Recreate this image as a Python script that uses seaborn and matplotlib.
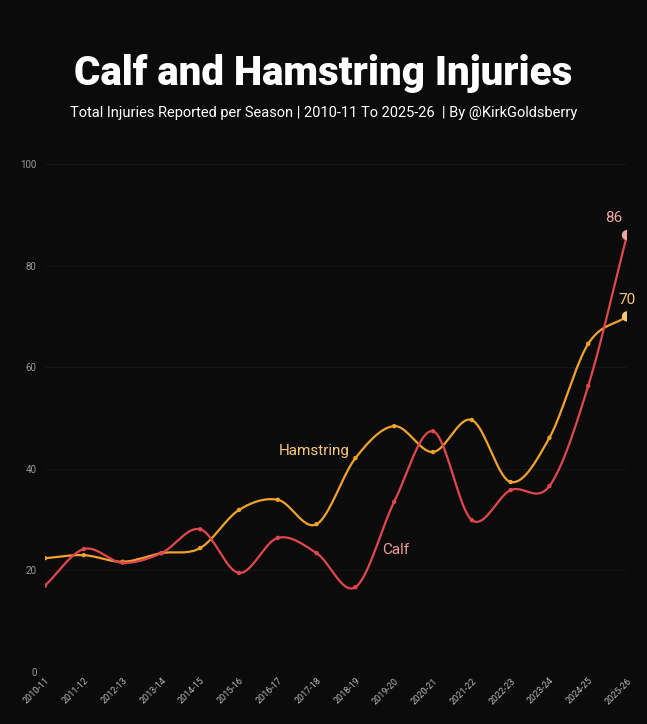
import numpy as np
import pandas as pd
import matplotlib
matplotlib.use("Agg")
import matplotlib.pyplot as plt
import seaborn as sns

seasons = ["2010-11","2011-12","2012-13","2013-14","2014-15","2015-16","2016-17","2017-18",
           "2018-19","2019-20","2020-21","2021-22","2022-23","2023-24","2024-25","2025-26"]
calf = [17, 24.2, 21.5, 23.4, 28.1, 19.5, 26.4, 23.4, 16.7, 33.5, 47.4, 29.9, 35.8, 36.6, 56.3, 86]
hamstring = [22.4, 23, 21.7, 23.4, 24.4, 31.9, 33.9, 29.1, 42.1, 48.4, 43.3, 49.6, 37.4, 46.1, 64.6, 70]

sns.set_theme(style="dark")
plt.rcParams['font.family'] = ['Roboto', 'DejaVu Sans']
BG = "#0b0b0b"
CALF = "#e0474f"
HAM = "#f0a22e"

def smooth(y, n=20):
    y = np.asarray(y, float); x = np.arange(len(y))
    m = np.gradient(y)
    xs, ys = [], []
    for i in range(len(y)-1):
        t = np.linspace(0, 1, n, endpoint=False)
        h00 = 2*t**3-3*t**2+1; h10 = t**3-2*t**2+t; h01 = -2*t**3+3*t**2; h11 = t**3-t**2
        xs.append(x[i]+t); ys.append(h00*y[i]+h10*m[i]+h01*y[i+1]+h11*m[i+1])
    xs.append([x[-1]]); ys.append([y[-1]])
    return np.concatenate(xs), np.concatenate(ys)

fig = plt.figure(figsize=(6.47, 7.24), dpi=100, facecolor=BG)
ax = fig.add_axes([45/647, 52/724, 582/647, 508/724], facecolor=BG)

for vals, col in [(hamstring, HAM), (calf, CALF)]:
    sx, sy = smooth(vals)
    sns.lineplot(x=sx, y=sy, ax=ax, color=col, lw=1.6, sort=False)
    df = pd.DataFrame({"x": np.arange(len(vals))[:-1], "y": vals[:-1]})
    sns.scatterplot(data=df, x="x", y="y", ax=ax, color=col, s=10, edgecolor="none", zorder=3)

ax.scatter([15], [calf[-1]], s=55, color="#f4a3a3", zorder=4, edgecolor="none")
ax.scatter([15], [hamstring[-1]], s=55, color="#f7c77a", zorder=4, edgecolor="none")
ax.text(14.65, calf[-1]+2.5, f"{calf[-1]:.0f}", color="#f4a3a3", fontsize=11, ha="center")
ax.text(15, hamstring[-1]+2.5, f"{hamstring[-1]:.0f}", color="#f7c77a", fontsize=11, ha="center")
ax.text(7.85, 43.5, "Hamstring", color="#f7c77a", fontsize=11, ha="right", va="center")
ax.text(9.05, 24, "Calf", color="#f49a9a", fontsize=11, ha="center", va="center")

ax.set_xlim(0, 15)
ax.set_ylim(0, 100)
ax.set_xticks(range(16))
ax.set_xticklabels(seasons, rotation=45, ha="right", rotation_mode="anchor", fontsize=6.5, color="#bbbbbb")
ax.set_yticks([0, 20, 40, 60, 80, 100])
ax.tick_params(axis="y", labelsize=7, colors="#999999", length=0, pad=6)
ax.tick_params(axis="x", length=0, pad=3)
ax.grid(axis="y", color="#151515", lw=0.8)
ax.grid(axis="x", visible=False)
ax.set_xlabel(""); ax.set_ylabel("")
for s in ax.spines.values():
    s.set_visible(False)
ax.axhline(0, color="#444444", lw=0.8)

fig.text(0.5, 0.882, "Calf and Hamstring Injuries", color="white", fontsize=29, fontweight="black", ha="center")
fig.text(0.5, 0.838, "Total Injuries Reported per Season | 2010-11 To 2025-26  | By @KirkGoldsberry",
         color="white", fontsize=10.5, ha="center")
fig.savefig("out.png", dpi=100, facecolor=BG)
